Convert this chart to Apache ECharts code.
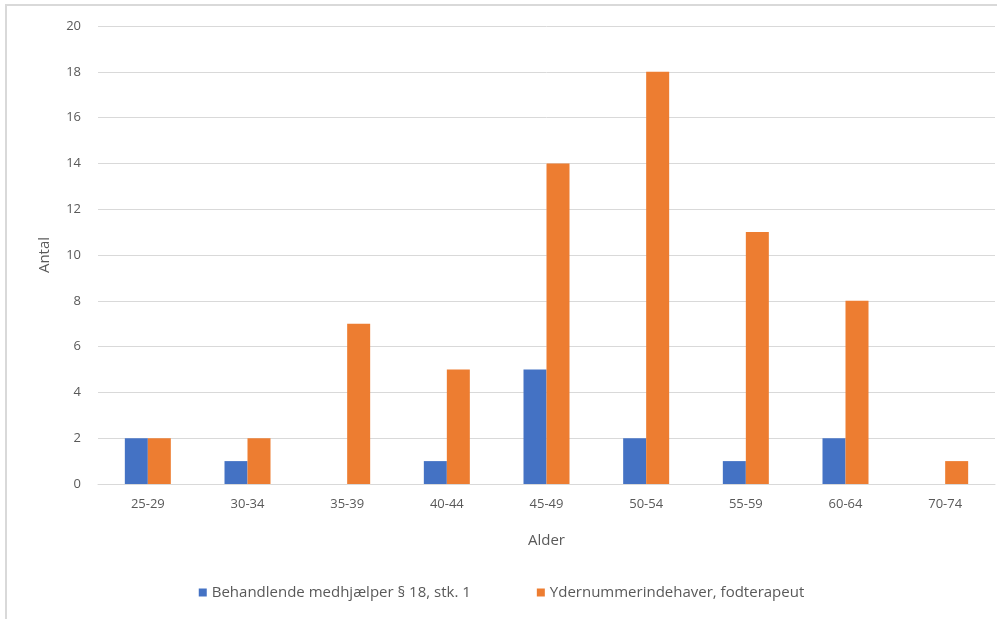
<!DOCTYPE html>
<html>
<head>
<meta charset="utf-8">
<script src="https://cdn.jsdelivr.net/npm/echarts@6/dist/echarts.min.js"></script>
<style>
  html, body { margin: 0; padding: 0; background: #fff; }
  #frame { position: absolute; left: 5px; top: 4px; width: 990px; height: 640px;
           border-left: 2px solid #d9d9d9; border-top: 2px solid #d9d9d9; }
  #chart { position: absolute; left: 0; top: 0; width: 1003px; height: 619px; }
</style>
</head>
<body>
<div id="frame"></div>
<div id="chart"></div>
<script>
// Age groups and counts per group
const ageGroups = ['25-29', '30-34', '35-39', '40-44', '45-49', '50-54', '55-59', '60-64', '70-74'];
const helperCounts = [2, 1, 0, 1, 5, 2, 1, 2, 0];
const providerCounts = [2, 2, 7, 5, 14, 18, 11, 8, 1];
const seriesNames = ['Behandlende medhjælper § 18, stk. 1', 'Ydernummerindehaver, fodterapeut'];

const textColor = '#595959';
const font = '"Open Sans", "Noto Sans", sans-serif';

const chart = echarts.init(document.getElementById('chart'));
chart.setOption({
  animation: false,
  textStyle: { fontFamily: font, color: textColor },
  grid: { left: 98, right: 8, top: 26, bottom: 135, containLabel: false },
  legend: {
    bottom: 14,
    left: 'center',
    itemWidth: 8,
    itemHeight: 8,
    itemGap: 66,
    icon: 'rect',
    textStyle: { fontFamily: font, fontSize: 15, color: textColor },
    data: seriesNames
  },
  xAxis: {
    type: 'category',
    data: ageGroups,
    name: 'Alder',
    nameLocation: 'middle',
    nameGap: 49,
    nameTextStyle: { fontSize: 15, color: textColor, fontFamily: font },
    axisLine: { lineStyle: { color: '#d9d9d9', width: 1 } },
    axisTick: { show: false },
    axisLabel: { fontSize: 13, color: textColor, margin: 14 }
  },
  yAxis: {
    type: 'value',
    min: 0,
    max: 20,
    interval: 2,
    name: 'Antal',
    nameLocation: 'middle',
    nameGap: 46,
    nameRotate: 90,
    nameTextStyle: { fontSize: 15, color: textColor, fontFamily: font },
    axisLine: { show: false },
    axisTick: { show: false },
    axisLabel: { fontSize: 13, color: textColor, margin: 17 },
    splitLine: { lineStyle: { color: '#d9d9d9', width: 1 } }
  },
  series: [
    {
      name: seriesNames[0],
      type: 'bar',
      data: helperCounts,
      barWidth: 23,
      barGap: '0%',
      itemStyle: { color: '#4472C4' }
    },
    {
      name: seriesNames[1],
      type: 'bar',
      data: providerCounts,
      barWidth: 23,
      barGap: '0%',
      itemStyle: { color: '#ED7D31' }
    }
  ]
});
</script>
</body>
</html>
